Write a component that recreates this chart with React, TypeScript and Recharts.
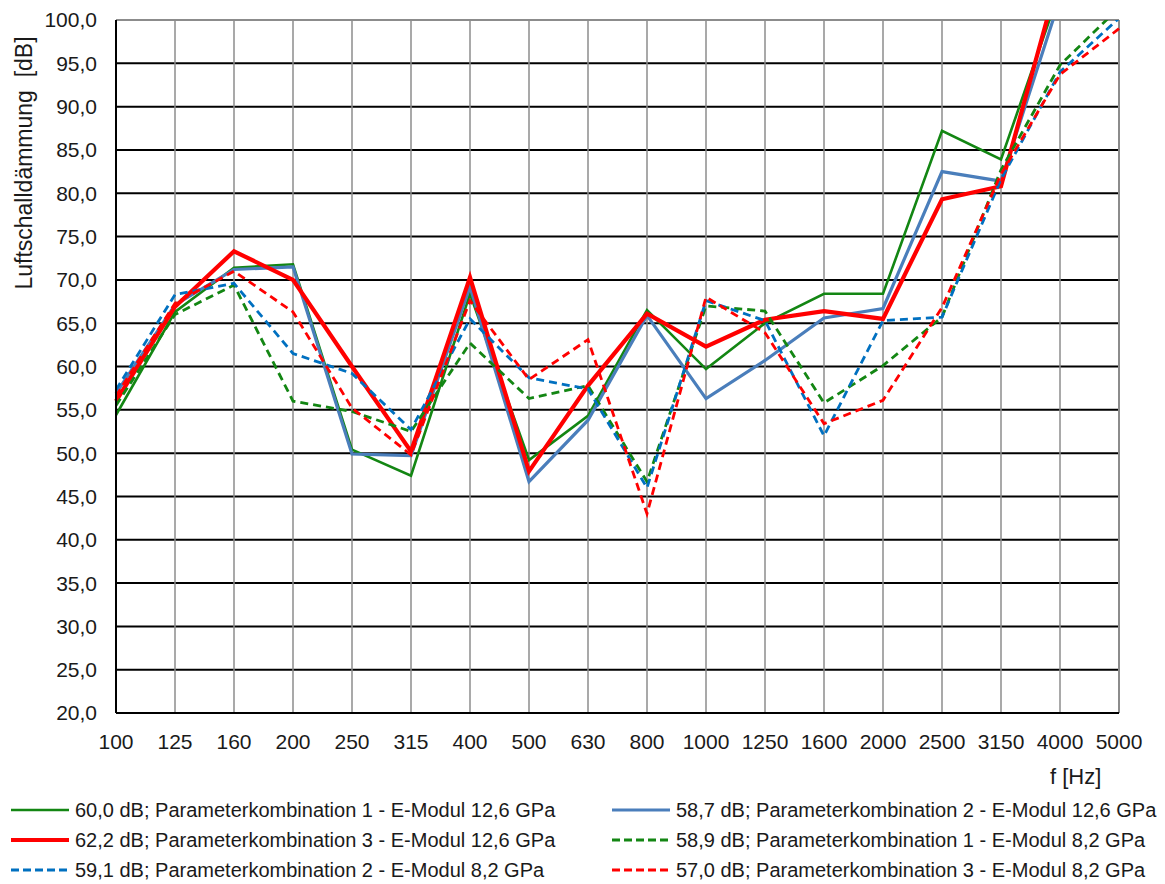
import React from "react";
import { LineChart, Line, XAxis, YAxis, CartesianGrid, ReferenceLine } from "recharts";

// third-octave band centre frequencies
const FREQS = [100, 125, 160, 200, 250, 315, 400, 500, 630, 800, 1000, 1250, 1600, 2000, 2500, 3150, 4000, 5000];

// dB (values above 100 leave the plot and are clipped)
const P1_E126 = [54.4, 66.3, 71.4, 71.8, 50.4, 47.4, 68.4, 49.2, 54.3, 66.5, 59.7, 65.0, 68.4, 68.4, 87.2, 83.9, 103.5, 112];
const P2_E126 = [56.9, 67.1, 71.2, 71.5, 49.9, 49.7, 69.2, 46.7, 53.8, 65.9, 56.3, 60.7, 65.6, 66.7, 82.5, 81.4, 102.5, 110];
const P3_E126 = [56.0, 66.9, 73.3, 70.0, 60.0, 50.2, 70.3, 47.9, 57.8, 66.1, 62.3, 65.4, 66.4, 65.5, 79.3, 80.8, 105.5, 115];
const P1_E82 = [55.5, 66.0, 69.4, 56.0, 54.8, 52.5, 62.7, 56.3, 57.8, 46.7, 67.0, 66.4, 55.8, 60.1, 65.7, 82.7, 94.8, 101.4];
const P2_E82 = [57.3, 68.3, 69.6, 61.5, 59.2, 52.7, 65.5, 58.7, 57.4, 46.0, 67.6, 65.3, 52.0, 65.3, 65.7, 81.6, 94.0, 100.2];
const P3_E82 = [56.6, 67.3, 71.0, 66.3, 55.2, 49.8, 67.6, 58.5, 63.1, 43.0, 68.0, 63.9, 53.4, 56.1, 66.8, 82.2, 93.7, 99.0];

const Y_TICKS = [20, 25, 30, 35, 40, 45, 50, 55, 60, 65, 70, 75, 80, 85, 90, 95, 100];

const SERIES = [
    { key: "p1_126", values: P1_E126, color: "#138613", width: 2.6, dash: undefined, name: "60,0 dB; Parameterkombination 1 - E-Modul 12,6 GPa" },
    { key: "p2_126", values: P2_E126, color: "#4a7ebb", width: 3.2, dash: undefined, name: "58,7 dB; Parameterkombination 2 - E-Modul 12,6 GPa" },
    { key: "p3_126", values: P3_E126, color: "#ff0000", width: 4.2, dash: undefined, name: "62,2 dB; Parameterkombination 3 - E-Modul 12,6 GPa" },
    { key: "p1_82", values: P1_E82, color: "#138613", width: 2.8, dash: "8 5", name: "58,9 dB; Parameterkombination 1 - E-Modul 8,2 GPa" },
    { key: "p2_82", values: P2_E82, color: "#0070c0", width: 2.8, dash: "8 5", name: "59,1 dB; Parameterkombination 2 - E-Modul 8,2 GPa" },
    { key: "p3_82", values: P3_E82, color: "#ff0000", width: 2.8, dash: "8 5", name: "57,0 dB; Parameterkombination 3 - E-Modul 8,2 GPa" },
];

const data = FREQS.map((f, i) => {
    const row: Record<string, number | string> = { f: String(f) };
    SERIES.forEach((s) => {
        row[s.key] = s.values[i];
    });
    return row;
});

const FONT = "'Liberation Sans', Arial, sans-serif";
const fmt = (v: number) => v.toFixed(1).replace(".", ",");

const LegendItem = ({ s, left, top }: { s: (typeof SERIES)[number]; left: number; top: number }) => (
    <div style={{ position: "absolute", left, top, height: 30, display: "flex", alignItems: "center" }}>
        <svg width={62} height={30} style={{ display: "block" }}>
            <line
                x1={2}
                x2={60}
                y1={15}
                y2={15}
                stroke={s.color}
                strokeWidth={s.dash ? 3 : s.width}
                strokeDasharray={s.dash ? "8 4" : undefined}
            />
        </svg>
        <span style={{ marginLeft: 4, fontSize: 20, color: "#1a1a1a", whiteSpace: "nowrap" }}>{s.name}</span>
    </div>
);

export default function App() {
    return (
        <div style={{ position: "absolute", left: 0, top: 0, width: 1165, height: 884, background: "#fff", fontFamily: FONT }}>
            <LineChart width={1165} height={884} data={data} margin={{ top: 20, right: 46, left: 0, bottom: 0 }}>
                <CartesianGrid vertical={false} stroke="#000" strokeWidth={2} />
                <CartesianGrid horizontal={false} stroke="#8c8c8c" strokeWidth={1.5} />
                <XAxis
                    dataKey="f"
                    scale="point"
                    padding={{ left: 0, right: 0 }}
                    height={171}
                    interval={0}
                    tickSize={0}
                    tickMargin={21}
                    axisLine={{ stroke: "#000", strokeWidth: 2 }}
                    tick={{ fill: "#1a1a1a", fontSize: 21, fontFamily: FONT }}
                />
                <YAxis
                    domain={[20, 100]}
                    ticks={Y_TICKS}
                    allowDataOverflow
                    width={116}
                    tickSize={0}
                    tickMargin={19}
                    tickFormatter={fmt}
                    axisLine={{ stroke: "#000", strokeWidth: 2 }}
                    tick={{ fill: "#1a1a1a", fontSize: 21, fontFamily: FONT }}
                />
                <ReferenceLine y={100} stroke="#8c8c8c" strokeWidth={2} />
                <ReferenceLine x="5000" stroke="#8c8c8c" strokeWidth={2} />
                {SERIES.map((s) => (
                    <Line
                        key={s.key}
                        dataKey={s.key}
                        type="linear"
                        stroke={s.color}
                        strokeWidth={s.width}
                        strokeDasharray={s.dash}
                        dot={false}
                        activeDot={false}
                        isAnimationActive={false}
                    />
                ))}
            </LineChart>

            <div
                style={{
                    position: "absolute",
                    left: 23.5 - 160,
                    top: 163 - 14,
                    width: 320,
                    height: 28,
                    lineHeight: "28px",
                    textAlign: "center",
                    fontSize: 23,
                    color: "#1a1a1a",
                    whiteSpace: "pre",
                    transform: "rotate(-90deg)",
                }}
            >
                {"Luftschalldämmung  [dB]"}
            </div>

            <div style={{ position: "absolute", left: 1050, top: 762, fontSize: 22, color: "#1a1a1a", lineHeight: "30px" }}>f [Hz]</div>

            <LegendItem s={SERIES[0]} left={9} top={795} />
            <LegendItem s={SERIES[2]} left={9} top={825} />
            <LegendItem s={SERIES[4]} left={9} top={855} />
            <LegendItem s={SERIES[1]} left={610} top={795} />
            <LegendItem s={SERIES[3]} left={610} top={825} />
            <LegendItem s={SERIES[5]} left={610} top={855} />
        </div>
    );
}
